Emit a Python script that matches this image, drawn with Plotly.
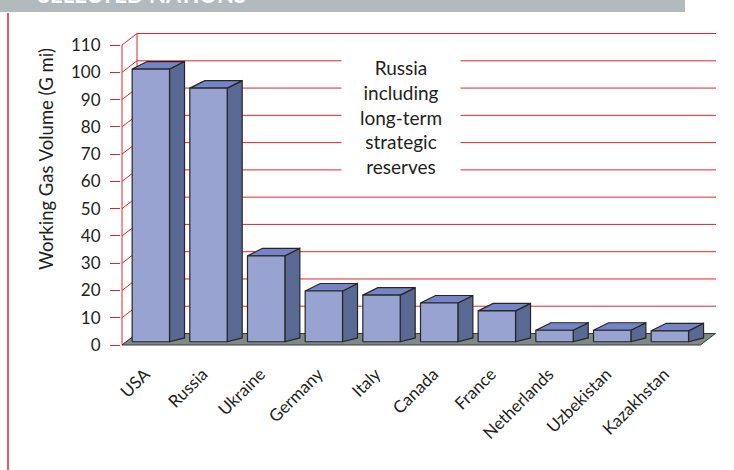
import plotly.graph_objects as go

# ---------------- data ----------------
countries = ["USA", "Russia", "Ukraine", "Germany", "Italy", "Canada",
             "France", "Netherlands", "Uzbekistan", "Kazakhstan"]
volumes = [100, 93, 31.5, 18.6, 17.1, 14.2, 11.3, 4.2, 4.2, 4.0]
y_ticks = list(range(0, 111, 10))
note_lines = ["Russia", "including", "long-term", "strategic", "reserves"]
y_title = "Working Gas Volume (G mi)"
header_text = "SELECTED NATIONS"

# ---------------- styling / geometry ----------------
FONT = "Lato"
TXT = "#231f20"
RED = "#e2252d"
FRONT = "#99a3d1"
SIDE = "#5a6994"
TOP = "#7584c4"
EDGE = "#262626"
FLOOR = "#7e8a88"
HEADER = "#b3babd"

PX_X = 57.67      # px per category unit
PX_Y = 2.727      # px per value unit
X0 = -0.5         # front axis position
XMAX = 9.8
FLOOR_RIGHT = 9.53
BAR_W = 0.648
BASE = 1.2
DX = 15 / PX_X
DY_TOP = 7.5 / PX_Y
DY_BOT = 3.8 / PX_Y
WALL_DX = 15 / PX_X
WALL_DY = 11.5 / PX_Y

ML, MR, MT, MB = 121, 18, 23, 103
W, H = 734, 470
PW, PH = W - ML - MR, H - MT - MB
x_lo = X0 - 1 / PX_X
y_hi = (345 - MT) / PX_Y
y_lo = y_hi - PH / PX_Y


def px2paper_x(px):
    return (px - ML) / PW


def px2paper_y(py):
    return (H - MB - py) / PH


fig = go.Figure()

# back wall grid lines + left wall diagonals
gx, gy = [], []
xb = X0 + WALL_DX
for t in y_ticks:
    if t > 0:
        gx += [xb, XMAX, None]
        gy += [t + WALL_DY, t + WALL_DY, None]
    gx += [X0, xb, None]
    gy += [t, t + WALL_DY, None]
gx += [xb, xb, None, X0, X0]
gy += [WALL_DY, y_ticks[-1] + WALL_DY, None, 0, y_ticks[-1]]
fig.add_trace(go.Scatter(x=gx, y=gy, mode="lines", line=dict(color=RED, width=1),
                         hoverinfo="skip", showlegend=False))

# floor
fig.add_trace(go.Scatter(
    x=[X0, FLOOR_RIGHT, FLOOR_RIGHT + WALL_DX, X0 + WALL_DX, X0],
    y=[0, 0, WALL_DY, WALL_DY, 0],
    mode="lines", fill="toself", fillcolor=FLOOR,
    line=dict(color="#3a3a3a", width=1), hoverinfo="skip", showlegend=False))

# bar faces (front, side, top) as polygons on the data axes
idx = list(range(len(countries)))
fx, fy, sx, sy, tx, ty = [], [], [], [], [], []
for i, v in zip(idx, volumes):
    xl, xr = i - BAR_W / 2, i + BAR_W / 2
    top = BASE + v
    fx += [xl, xr, xr, xl, xl, None]
    fy += [BASE, BASE, top, top, BASE, None]
    sx += [xr, xr + DX, xr + DX, xr, xr, None]
    sy += [BASE, BASE + DY_BOT, top + DY_TOP, top, BASE, None]
    tx += [xl, xl + DX, xr + DX, xr, xl, None]
    ty += [top, top + DY_TOP, top + DY_TOP, top, top, None]
for px_, py_, col in [(sx, sy, SIDE), (tx, ty, TOP), (fx, fy, FRONT)]:
    fig.add_trace(go.Scatter(x=px_, y=py_, mode="lines", fill="toself", fillcolor=col,
                             line=dict(color=EDGE, width=1.2), hoverinfo="skip",
                             showlegend=False))

# annotations
fig.add_annotation(x=X0 + (401 - 122) / PX_X, y=(345 - 117) / PX_Y, xref="x", yref="y",
                   text="<br>".join(note_lines), showarrow=False, align="center",
                   width=116, height=124, bgcolor="white",
                   font=dict(family=FONT, size=19, color=TXT))
fig.add_annotation(x=px2paper_x(33), y=px2paper_y(159), xref="paper", yref="paper",
                   text=y_title, textangle=-90, showarrow=False,
                   font=dict(family=FONT, size=18.5, color=TXT))
fig.add_annotation(x=px2paper_x(36), y=px2paper_y(-6), xref="paper", yref="paper",
                   xanchor="left", yanchor="middle", text="<b>" + header_text + "</b>",
                   showarrow=False, font=dict(family=FONT, size=22, color="white"))

# header bar and red margin line
fig.add_shape(type="rect", xref="paper", yref="paper",
              x0=px2paper_x(-5), x1=px2paper_x(685), y0=px2paper_y(12), y1=px2paper_y(-20),
              fillcolor=HEADER, line=dict(width=0), layer="below")
fig.add_shape(type="line", xref="paper", yref="paper",
              x0=px2paper_x(8), x1=px2paper_x(8), y0=px2paper_y(13), y1=px2paper_y(475),
              line=dict(color=RED, width=1.5))

fig.update_layout(
    width=W, height=H,
    margin=dict(l=ML, r=MR, t=MT, b=MB, autoexpand=False),
    paper_bgcolor="white", plot_bgcolor="white",
    xaxis=dict(range=[x_lo, XMAX], tickvals=[i - 0.1 for i in idx], ticktext=countries,
               tickangle=-45, ticklabelstandoff=-7,
               showgrid=False, zeroline=False, showline=False, ticks="",
               tickfont=dict(family=FONT, size=17, color=TXT), fixedrange=True),
    yaxis=dict(range=[y_lo, y_hi], tickvals=y_ticks, ticks="outside", ticklen=10,
               tickcolor=RED, tickwidth=1, showgrid=False, zeroline=False, showline=False,
               ticklabelstandoff=6,
               tickfont=dict(family=FONT, size=17, color=TXT), fixedrange=True),
    font=dict(family=FONT, color=TXT),
)

fig.write_html("out.html", config={"displayModeBar": False},
               post_script="document.body.style.margin='0';document.body.style.padding='0';")
